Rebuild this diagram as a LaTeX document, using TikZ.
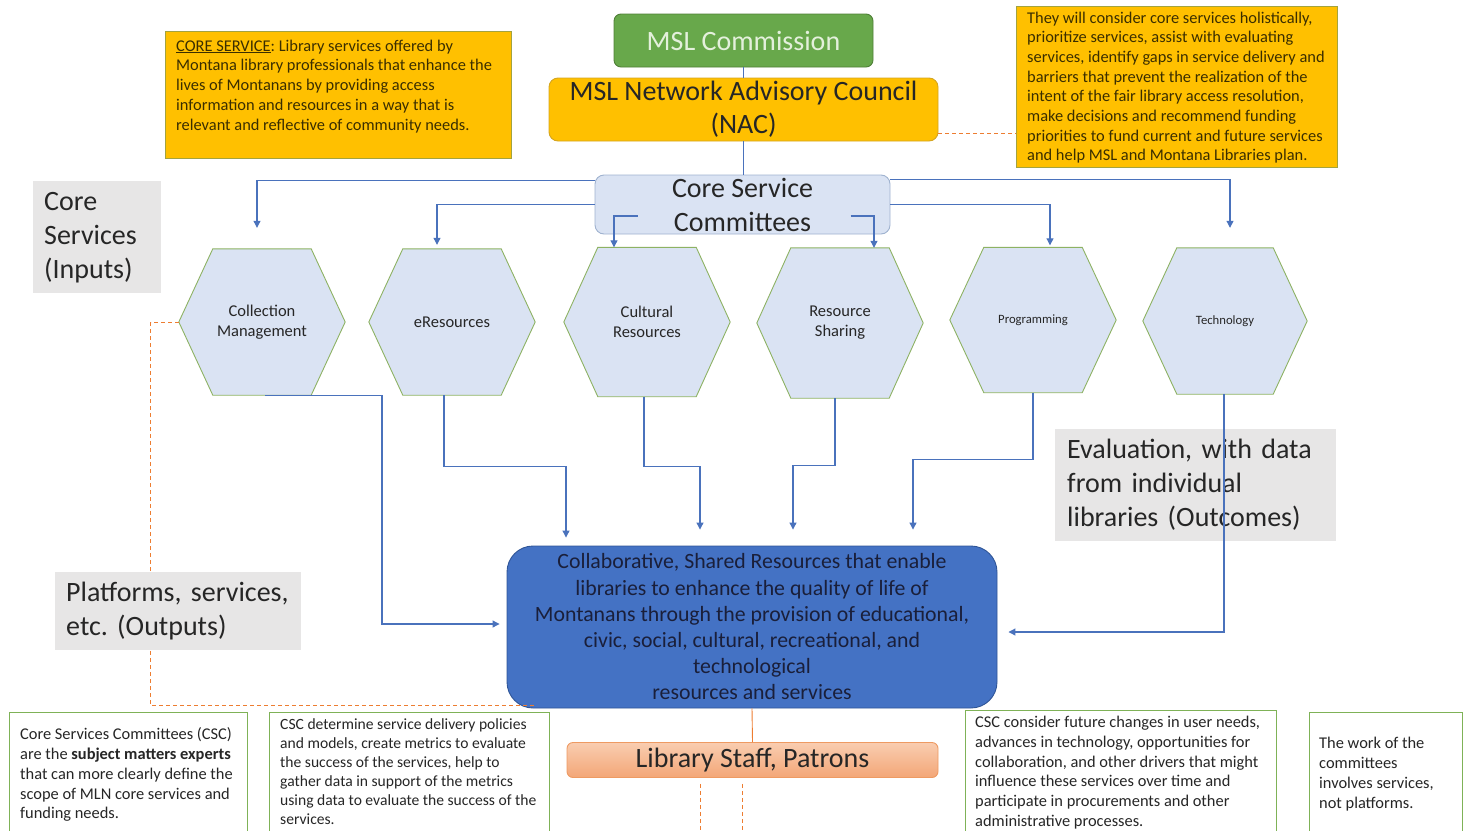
\documentclass[tikz,border=0pt]{standalone}
\usepackage{fontspec}
\setmainfont{Carlito}
\usetikzlibrary{arrows.meta,backgrounds,calc}
\frenchspacing

\definecolor{linkblue}{HTML}{4A72BC}
\definecolor{hexfill}{HTML}{DAE3F3}
\definecolor{hexedge}{HTML}{8DB263}
\definecolor{gold}{HTML}{FFC000}
\definecolor{goldedge}{HTML}{A3A33F}
\definecolor{nacedge}{HTML}{D4A520}
\definecolor{mslgreen}{HTML}{68A84B}
\definecolor{mslgreenedge}{HTML}{4F7F37}
\definecolor{msltext}{HTML}{E4F0DC}
\definecolor{labelgray}{HTML}{E7E6E6}
\definecolor{mainblue}{HTML}{4472C4}
\definecolor{mainedge}{HTML}{2F5597}
\definecolor{maintext}{HTML}{1A1F3A}
\definecolor{cscedge}{HTML}{9FB2CF}
\definecolor{peachtop}{HTML}{F9CDB0}
\definecolor{peachbot}{HTML}{F3A677}
\definecolor{peachedge}{HTML}{EE9A62}
\definecolor{orangeline}{HTML}{ED7D31}
\definecolor{noteedge}{HTML}{7FB257}
\definecolor{darktext}{HTML}{262626}
\definecolor{notetextcol}{HTML}{3A2E00}

\begin{document}
\begin{tikzpicture}[x=1pt,y=-1pt,
  link/.style={draw=linkblue,line width=1.1pt},
  flow/.style={link,-{Triangle[length=7pt,width=7pt]}},
  odash/.style={draw=orangeline,line width=1pt,dash pattern=on 4pt off 3pt},
  oline/.style={draw=orangeline,line width=0.9pt},
  hexnode/.style={minimum width=166pt,minimum height=146pt,inner sep=0pt,
    align=center,text=darktext,font=\fontsize{16.5}{20}\selectfont},
  hexsmall/.style={font=\fontsize{12.7}{15}\selectfont},
  hexshape/.style={fill=hexfill,draw=hexedge,line width=0.9pt,line join=miter},
  roundbox/.style={inner sep=0pt,align=center,line width=0.9pt},
  goldnote/.style={anchor=north west,inner sep=0pt,fill=gold,draw=goldedge,line width=0.9pt},
  whitenote/.style={anchor=north west,inner sep=0pt,fill=white,draw=noteedge,line width=0.8pt},
  notetext/.style={anchor=north west,inner sep=0pt,align=left},
  graylabel/.style={anchor=north west,fill=labelgray,inner xsep=11pt,inner ysep=0pt,
    align=left,text=darktext,font=\fontsize{28}{34}\selectfont}
]
\useasboundingbox (0,0) rectangle (1464,830);

% ---- governance chain ----
\node[roundbox,fill=mslgreen,draw=mslgreenedge,rounded corners=7pt,
  minimum width=259pt,minimum height=53pt,text=msltext,
  font=\fontsize{28}{32}\selectfont] (msl) at (743.5,40.5) {MSL Commission};
\node[roundbox,fill=gold,draw=nacedge,rounded corners=9pt,
  minimum width=389pt,minimum height=63pt,text=darktext,
  font=\fontsize{28}{33}\selectfont] (nac) at (743.5,109.5)
  {MSL Network Advisory Council\\(NAC)};
\node[roundbox,fill=hexfill,draw=cscedge,rounded corners=9pt,
  minimum width=295pt,minimum height=59pt,text=darktext,
  font=\fontsize{28}{34}\selectfont] (csc) at (742.5,204.5)
  {Core Service\\Committees};

% ---- explanatory notes (top) ----
\node[goldnote,minimum width=346pt,minimum height=127pt] (defbox) at (165,31) {};
\node[notetext,text=notetextcol,font=\fontsize{16.4}{19.8}\selectfont] (deftext) at (176,39.5)
  {\underline{CORE SERVICE}: Library services offered by\\
   Montana library professionals that enhance the\\
   lives of Montanans by providing access\\
   information and resources in a way that is\\
   relevant and reflective of community needs.};

\node[goldnote,minimum width=321pt,minimum height=161pt] (nacbox) at (1016,6) {};
\node[notetext,text=notetextcol,font=\fontsize{16.4}{19.7}\selectfont] (nactext) at (1027,11.5)
  {They will consider core services holistically,\\
   prioritize services, assist with evaluating\\
   services, identify gaps in service delivery and\\
   barriers that prevent the realization of the\\
   intent of the fair library access resolution,\\
   make decisions and recommend funding\\
   priorities to fund current and future services\\
   and help MSL and Montana Libraries plan.};

\coordinate (nacdash) at ([yshift=-24pt]nac.east);
\draw[odash] (nacdash) -- (nacdash -| nacbox.west);

% ---- side labels ----
\node[graylabel,text width=106pt,minimum height=112pt] (inputs) at (33,181)
  {Core\\Services\\(Inputs)};
\node[graylabel,inner xsep=12pt,text width=257pt,minimum height=112pt] (outcomes) at (1055,429)
  {Evaluation, with data\\from individual\\libraries (Outcomes)};

% ---- core services ----
\node[hexnode] (cm) at (262,322) {Collection\\Management};
\node[hexnode] (er) at (452,322) {eResources};
\node[hexnode,minimum height=149pt] (cu) at (647,322) {Cultural\\Resources};
\node[hexnode,minimum height=150pt] (rs) at (840,323) {Resource\\Sharing};
\node[hexnode,hexsmall,minimum height=145pt] (pg) at (1033,320) {Programming};
\node[hexnode,hexsmall,minimum width=164pt] (tc) at (1225,321) {Technology};

\begin{scope}[on background layer]
  \foreach \h in {cm,er,cu,rs,pg,tc}
    \draw[hexshape] (\h.west) -- ([xshift=34pt]\h.north west)
      -- ([xshift=-34pt]\h.north east) -- (\h.east)
      -- ([xshift=-34pt]\h.south east) -- ([xshift=34pt]\h.south west) -- cycle;
\end{scope}

% ---- shared outcome ----
\node[roundbox,fill=mainblue,draw=mainedge,rounded corners=26pt,
  minimum width=490pt,minimum height=162pt,text=maintext,
  font=\fontsize{21.8}{26.2}\selectfont] (main) at (752,627)
  {Collaborative, Shared Resources that enable\\
   libraries to enhance the quality of life of\\
   Montanans through the provision of educational,\\
   civic, social, cultural, recreational, and\\
   technological\\
   resources and services};

\node[roundbox,top color=peachtop,bottom color=peachbot,draw=peachedge,rounded corners=6pt,
  minimum width=371pt,minimum height=35pt,text=darktext,
  font=\fontsize{28}{30}\selectfont] (staff) at (752.5,760) {Library Staff, Patrons};

% ---- committees to services ----
\draw[link] (msl.south) -- (nac.north);
\draw[link] (nac.south) -- (nac.south |- csc.north);
\draw[flow] ([yshift=-6pt]csc.north west) -| ([xshift=-5pt,yshift=21pt]cm.north);
\draw[flow] (csc.west) -| ([xshift=-15pt,yshift=4pt]er.north);
\draw[flow] ([xshift=-105pt,yshift=-11.5pt]csc.center) -| ([xshift=-33pt]cu.north);
\draw[flow] ([xshift=108pt,yshift=-11.5pt]csc.center) -| ([xshift=34pt]rs.north);
\draw[flow] (csc.east) -| ([xshift=17pt,yshift=2pt]pg.north);
\draw[flow] ([yshift=-5pt]csc.north east) -| ([xshift=5pt,yshift=20pt]tc.north);

% ---- services to shared outcome ----
\draw[flow] ([xshift=3pt]cm.south) -- ([xshift=120pt]cm.south) |- ([xshift=-7pt,yshift=3pt]main.west);
\draw[flow] ([xshift=-8pt]er.south) -- ++(0,71) -| ([xshift=-186pt,yshift=8pt]main.north);
\draw[flow] ([xshift=-3pt]cu.south) -- ++(0,70) -| ([xshift=-52pt,yshift=16pt]main.north);
\draw[flow] ([xshift=-5pt]rs.south) -- ++(0,67) -| ([xshift=41pt,yshift=16pt]main.north);
\draw[flow] (pg.south) -- ++(0,67) -| ([xshift=161pt,yshift=16pt]main.north);
\draw[flow] ([xshift=-1pt]tc.south) |- ([xshift=11pt,yshift=-5pt]main.east);

% ---- dashed feedback loop and outputs label ----
\coordinate (loopend) at ([xshift=28pt,yshift=3pt]main.south west);
\draw[odash] (cm.west) -- ++(-28,0) |- (loopend);
\node[graylabel,text width=224pt,minimum height=78pt] (outputs) at (55,572)
  {Platforms, services,\\etc. (Outputs)};

% ---- users ----
\draw[oline] (main.south) -- (staff.north);
\draw[odash] ([xshift=-52pt,yshift=-6pt]staff.south) -- ++(0,60);
\draw[odash] ([xshift=-10.5pt,yshift=-6pt]staff.south) -- ++(0,60);

% ---- explanatory notes (bottom) ----
\node[whitenote,minimum width=238pt,minimum height=130pt] (n1) at (9,712) {};
\node[notetext,text=darktext,font=\fontsize{16.4}{19.8}\selectfont] (n1t) at (20,727.5)
  {Core Services Committees (CSC)\\
   are the \textbf{subject matters experts}\\
   that can more clearly define the\\
   scope of MLN core services and\\
   funding needs.};

\node[whitenote,minimum width=280pt,minimum height=130pt] (n2) at (269,712) {};
\node[notetext,text=darktext,font=\fontsize{15.6}{19}\selectfont] (n2t) at (280,718)
  {CSC determine service delivery policies\\
   and models, create metrics to evaluate\\
   the success of the services, help to\\
   gather data in support of the metrics\\
   using data to evaluate the success of the\\
   services.};

\node[whitenote,minimum width=311pt,minimum height=130pt] (n3) at (965,710) {};
\node[notetext,text=darktext,font=\fontsize{16.4}{19.8}\selectfont] (n3t) at (975,716)
  {CSC consider future changes in user needs,\\
   advances in technology, opportunities for\\
   collaboration, and other drivers that might\\
   influence these services over time and\\
   participate in procurements and other\\
   administrative processes.};

\node[whitenote,minimum width=153pt,minimum height=130pt] (n4) at (1309,712) {};
\node[notetext,text=darktext,font=\fontsize{16.4}{20}\selectfont] (n4t) at (1319,737)
  {The work of the\\
   committees\\
   involves services,\\
   not platforms.};
\end{tikzpicture}
\end{document}
